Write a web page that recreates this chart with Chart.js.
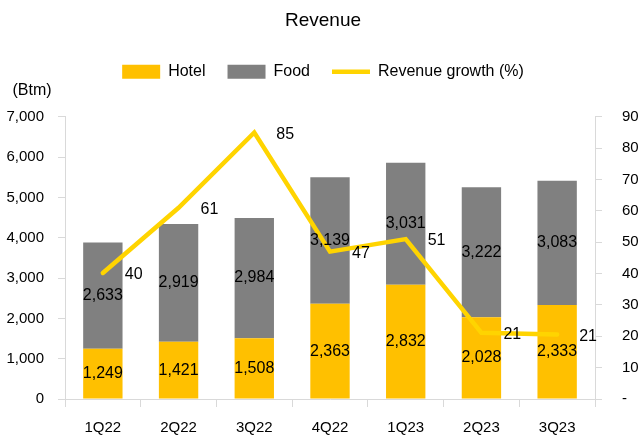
<!DOCTYPE html>
<html>
<head>
<meta charset="utf-8">
<script src="https://cdn.jsdelivr.net/npm/chart.js@4.4.1/dist/chart.umd.min.js"></script>
<style>
  html, body { margin: 0; padding: 0; background: #fff; }
  #wrap { width: 643px; height: 439px; }
</style>
</head>
<body>
<div id="wrap"><canvas id="chart"></canvas></div>
<script>
const quarters = ['1Q22', '2Q22', '3Q22', '4Q22', '1Q23', '2Q23', '3Q23'];
const hotel = [1249, 1421, 1508, 2363, 2832, 2028, 2333];
const food = [2633, 2919, 2984, 3139, 3031, 3222, 3083];
const growth = [40.2, 61, 85, 47, 51, 21.1, 20.6];

const FONT = '"Liberation Sans", Arial, sans-serif';
const AXIS = '#d9d9d9';

// bigger gap under the legend
const legendGap = {
  id: 'legendGap',
  beforeInit(chart) {
    const fit = chart.legend.fit;
    chart.legend.fit = function () {
      fit.bind(chart.legend)();
      this.height += 27;
    };
  }
};

// value labels + unit text
const valueLabels = {
  id: 'valueLabels',
  afterDatasetsDraw(chart) {
    const ctx = chart.ctx;
    ctx.save();
    ctx.fillStyle = '#000';
    ctx.font = '16px ' + FONT;
    ctx.textBaseline = 'middle';

    [1, 2].forEach(i => {
      const meta = chart.getDatasetMeta(i);
      const vals = chart.data.datasets[i].data;
      ctx.textAlign = 'center';
      meta.data.forEach((bar, j) => {
        const y = (bar.y + bar.base) / 2;
        ctx.fillText(vals[j].toLocaleString('en-US'), bar.x, y);
      });
    });

    const line = chart.getDatasetMeta(0);
    ctx.textAlign = 'left';
    line.data.forEach((pt, j) => {
      ctx.fillText(Math.round(growth[j]), pt.x + 22, pt.y + 2);
    });

    ctx.textAlign = 'center';
    ctx.fillText('(Btm)', chart.chartArea.left - 33, 91);
    ctx.restore();
  }
};

new Chart(document.getElementById('chart'), {
  type: 'bar',
  data: {
    labels: quarters,
    datasets: [
      {
        type: 'line',
        label: 'Revenue growth (%)',
        data: growth,
        yAxisID: 'y1',
        borderColor: '#FFD400',
        backgroundColor: '#FFD400',
        borderWidth: 4.5,
        borderCapStyle: 'round',
        pointRadius: 0,
        tension: 0
      },
      {
        label: 'Hotel',
        data: hotel,
        backgroundColor: '#FFC000',
        stack: 'rev'
      },
      {
        label: 'Food',
        data: food,
        backgroundColor: '#808080',
        stack: 'rev'
      }
    ]
  },
  options: {
    responsive: true,
    maintainAspectRatio: false,
    animation: false,
    layout: { padding: { left: 6, right: 3, top: 0, bottom: 2 } },
    datasets: {
      bar: { barPercentage: 0.52, categoryPercentage: 1 }
    },
    plugins: {
      tooltip: { enabled: false },
      title: {
        display: true,
        text: 'Revenue',
        color: '#000',
        font: { family: FONT, size: 19, weight: 'normal' },
        padding: { top: 9, bottom: 10 }
      },
      legend: {
        position: 'top',
        labels: {
          color: '#000',
          font: { family: FONT, size: 16 },
          usePointStyle: true,
          pointStyleWidth: 38,
          boxHeight: 14,
          padding: 22,
          sort: (a, b) => {
            const rank = [2, 0, 1];
            return rank[a.datasetIndex] - rank[b.datasetIndex];
          },
          generateLabels(chart) {
            const items = Chart.defaults.plugins.legend.labels.generateLabels(chart);
            items.forEach(it => {
              it.pointStyle = it.datasetIndex === 0 ? 'line' : 'rect';
              if (it.datasetIndex !== 0) it.lineWidth = 0;
            });
            return items;
          }
        }
      }
    },
    scales: {
      x: {
        stacked: true,
        afterFit: s => { s.height = 38; },
        grid: { display: true, offset: true, drawOnChartArea: false, color: AXIS, tickLength: 8 },
        border: { color: AXIS },
        ticks: { color: '#000', font: { family: FONT, size: 15 }, padding: 12, maxRotation: 0 }
      },
      y: {
        stacked: true,
        position: 'left',
        min: 0,
        max: 7000,
        afterFit: s => { s.width = 59; },
        ticks: {
          stepSize: 1000,
          color: '#000',
          font: { family: FONT, size: 15 },
          padding: 14,
          callback: v => v.toLocaleString('en-US')
        },
        grid: { drawOnChartArea: false, color: AXIS, tickLength: 7 },
        border: { color: AXIS }
      },
      y1: {
        position: 'right',
        min: 0,
        max: 90,
        afterFit: s => { s.width = 45; },
        ticks: {
          stepSize: 10,
          color: '#000',
          font: { family: FONT, size: 15 },
          padding: 20,
          callback: v => v === 0 ? '-' : v
        },
        grid: { drawOnChartArea: false, color: AXIS, tickLength: 7 },
        border: { color: AXIS }
      }
    }
  },
  plugins: [legendGap, valueLabels]
});
</script>
</body>
</html>
